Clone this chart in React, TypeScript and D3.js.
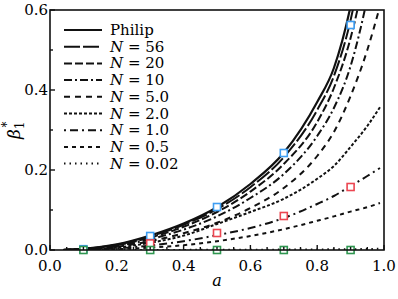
import React, { useEffect, useRef } from 'react';
import * as d3 from 'd3';

const aSteps = [0.04, 0.1, 0.2, 0.3, 0.4, 0.5, 0.6, 0.7, 0.8, 0.85, 0.9, 0.95, 0.988];

const philip = [0.0003, 0.003, 0.014, 0.036, 0.066, 0.107, 0.165, 0.243, 0.37, 0.455, 0.61, 0.85, 1.1];
const n56 = [0.0003, 0.003, 0.013, 0.034, 0.063, 0.102, 0.157, 0.232, 0.35, 0.435, 0.575, 0.8, 1.0];
const n20 = [0.0003, 0.0025, 0.012, 0.031, 0.058, 0.095, 0.146, 0.215, 0.32, 0.405, 0.53, 0.72, 0.9];
const n10 = [0.0002, 0.002, 0.01, 0.027, 0.051, 0.084, 0.13, 0.19, 0.285, 0.355, 0.46, 0.63, 0.8];
const n5 = [0.0002, 0.0015, 0.008, 0.022, 0.042, 0.068, 0.105, 0.155, 0.235, 0.295, 0.385, 0.5, 0.61];
const n2 = [0.0001, 0.001, 0.006, 0.018, 0.036, 0.065, 0.095, 0.128, 0.178, 0.21, 0.258, 0.31, 0.357];
const n1 = [0.0001, 0.0008, 0.004, 0.011, 0.022, 0.037, 0.055, 0.08, 0.115, 0.135, 0.16, 0.185, 0.205];
const n05 = [0.0001, 0.0004, 0.002, 0.006, 0.012, 0.022, 0.035, 0.052, 0.073, 0.084, 0.096, 0.107, 0.1175];
const n002 = [0, 0, 0.0001, 0.0002, 0.0003, 0.0005, 0.0007, 0.001, 0.0014, 0.0017, 0.002, 0.0025, 0.003];

const seriesNames = ['Philip', '56', '20', '10', '5.0', '2.0', '1.0', '0.5', '0.02'];
const seriesValues = [philip, n56, n20, n10, n5, n2, n1, n05, n002];
const dashes = ['', '16,3', '8,3', '8,3,2,3', '6,5', '3,2', '2,4,8,4', '4,4', '1.5,4'];

// simulation markers
const markerA = [0.1, 0.3, 0.5, 0.7, 0.9];
const blueVals = [0.002, 0.035, 0.1075, 0.2425, 0.5625];
const redA = [0.3, 0.5, 0.7, 0.9];
const redVals = [0.0165, 0.0425, 0.085, 0.1575];
const greenVals = [0, 0, 0, 0, 0];

const xTicks = [0, 0.2, 0.4, 0.6, 0.8, 1.0];
const yTicks = [0, 0.2, 0.4, 0.6];

export default function App() {
  const ref = useRef<SVGSVGElement>(null);

  useEffect(() => {
    document.body.style.margin = '0';
    const svg = d3.select(ref.current);
    svg.selectAll('*').remove();

    const left = 50, right = 384, top = 10, bottom = 250;
    const x = d3.scaleLinear().domain([0, 1]).range([left, right]);
    const y = d3.scaleLinear().domain([0, 0.6]).range([bottom, top]);
    const font = 'DejaVu Serif, serif';

    svg
      .append('defs')
      .append('clipPath')
      .attr('id', 'plot')
      .append('rect')
      .attr('x', left)
      .attr('y', top)
      .attr('width', right - left)
      .attr('height', bottom - top);

    const line = d3
      .line<number>()
      .x((d, i) => x(aSteps[i]))
      .y(d => y(d))
      .curve(d3.curveMonotoneX);

    svg
      .append('g')
      .attr('clip-path', 'url(#plot)')
      .selectAll('path')
      .data(seriesValues)
      .join('path')
      .attr('d', d => line(d))
      .attr('fill', 'none')
      .attr('stroke', '#111')
      .attr('stroke-width', (d, i) => (i === 0 ? 2.2 : 2))
      .attr('stroke-dasharray', (d, i) => dashes[i]);

    // markers
    const sq = 7;
    const drawMarkers = (as: number[], vals: number[], color: string) =>
      svg
        .append('g')
        .selectAll('rect')
        .data(vals)
        .join('rect')
        .attr('x', (d, i) => x(as[i]) - sq / 2)
        .attr('y', d => y(d) - sq / 2)
        .attr('width', sq)
        .attr('height', sq)
        .attr('fill', 'white')
        .attr('stroke', color)
        .attr('stroke-width', 1.6);
    drawMarkers(markerA, blueVals, '#3d9df2');
    drawMarkers(redA, redVals, '#ec4651');
    drawMarkers(markerA, greenVals, '#2f9650');

    // frame
    svg
      .append('rect')
      .attr('x', left)
      .attr('y', top)
      .attr('width', right - left)
      .attr('height', bottom - top)
      .attr('fill', 'none')
      .attr('stroke', '#111')
      .attr('stroke-width', 1.6);

    // inward ticks
    const ticks = svg.append('g').attr('stroke', '#111').attr('stroke-width', 1.4);
    ticks
      .selectAll('line.xt')
      .data(d3.range(0, 21).map(i => i * 0.05))
      .join('line')
      .attr('x1', d => x(d))
      .attr('x2', d => x(d))
      .attr('y1', bottom)
      .attr('y2', (d, i) => bottom - (i % 4 === 0 ? 5 : 3));
    ticks
      .selectAll('line.yt')
      .data(d3.range(0, 7).map(i => i * 0.1))
      .join('line')
      .attr('y1', d => y(d))
      .attr('y2', d => y(d))
      .attr('x1', left)
      .attr('x2', (d, i) => left + (i % 2 === 0 ? 5 : 3));

    svg
      .append('g')
      .selectAll('text')
      .data(xTicks)
      .join('text')
      .attr('x', d => x(d))
      .attr('y', 271)
      .attr('text-anchor', 'middle')
      .attr('font-family', font)
      .attr('font-size', 15)
      .text(d => d.toFixed(1));

    svg
      .append('g')
      .selectAll('text')
      .data(yTicks)
      .join('text')
      .attr('x', left - 2)
      .attr('y', d => y(d) + 5)
      .attr('text-anchor', 'end')
      .attr('font-family', font)
      .attr('font-size', 15)
      .text(d => d.toFixed(1));

    // axis labels
    svg
      .append('text')
      .attr('x', x(0.5))
      .attr('y', 286)
      .attr('text-anchor', 'middle')
      .attr('font-family', font)
      .attr('font-style', 'italic')
      .attr('font-size', 16)
      .text('a');

    const yl = svg
      .append('text')
      .attr('transform', 'translate(20,139) rotate(-90)')
      .attr('font-family', font)
      .attr('font-size', 17);
    yl.append('tspan').attr('font-style', 'italic').text('β');
    yl.append('tspan').attr('font-size', 12).attr('dy', 4).text('1');
    yl.append('tspan').attr('font-size', 12).attr('dx', -6).attr('dy', -13).text('*');

    // legend
    const legend = svg
      .append('g')
      .selectAll('g')
      .data(seriesNames)
      .join('g')
      .attr('transform', (d, i) => `translate(64, ${30 + i * 16.7})`);
    legend
      .append('line')
      .attr('x1', 0)
      .attr('x2', 38)
      .attr('stroke', '#111')
      .attr('stroke-width', (d, i) => (i === 0 ? 2.2 : 2))
      .attr('stroke-dasharray', (d, i) => dashes[i]);
    const lt = legend
      .append('text')
      .attr('x', 46)
      .attr('y', 5)
      .attr('font-family', font)
      .attr('font-size', 15);
    lt.filter((d, i) => i === 0).text(d => d);
    lt.filter((d, i) => i > 0)
      .call(t => t.append('tspan').attr('font-style', 'italic').text('N'))
      .call(t => t.append('tspan').text(d => ` = ${d}`));
  }, []);

  return <svg ref={ref} width={398} height={299} style={{ display: 'block', background: 'white' }} />;
}
